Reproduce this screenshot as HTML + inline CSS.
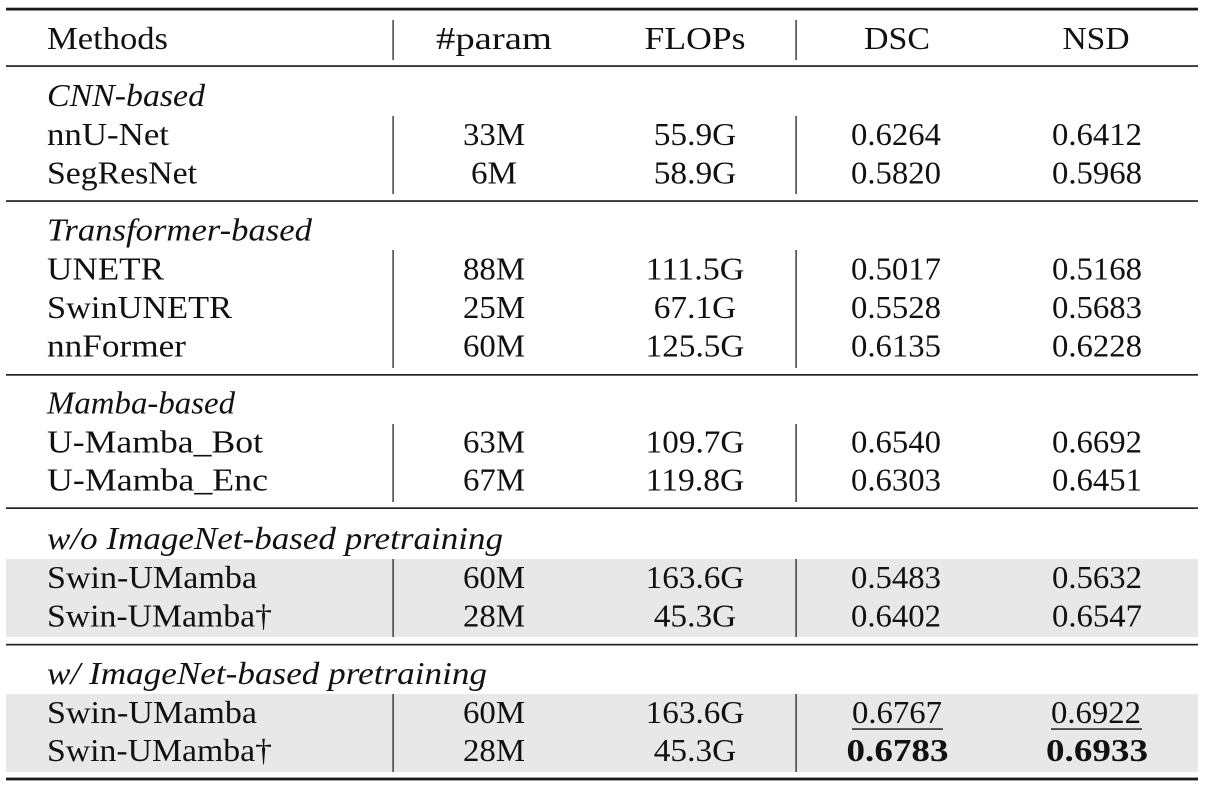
<!DOCTYPE html>
<html>
<head>
<meta charset="utf-8">
<style>
  html, body { margin: 0; padding: 0; background: #ffffff; }
  body { width: 1210px; height: 788px; overflow: hidden; }
  svg { display: block; }
  text { font-family: "Liberation Serif", "DejaVu Serif", serif; font-size: 31.5px; fill: #111; }
  .it { font-style: italic; }
  .b { font-weight: bold; }
</style>
</head>
<body>
<svg width="1210" height="788" viewBox="0 0 1210 788" xmlns="http://www.w3.org/2000/svg">
  <rect x="0" y="0" width="1210" height="788" fill="#ffffff"/>

  <!-- shaded bands -->
  <rect x="6" y="559" width="1192" height="78" fill="#e8e8e8"/>
  <rect x="6" y="694" width="1192" height="78" fill="#e8e8e8"/>

  <!-- horizontal rules -->
  <rect x="6" y="7.7" width="1192" height="2.8" fill="#1a1a1a"/>
  <rect x="6" y="65.2" width="1192" height="1.7" fill="#222"/>
  <rect x="6" y="200.2" width="1192" height="1.7" fill="#222"/>
  <rect x="6" y="374" width="1192" height="1.7" fill="#222"/>
  <rect x="6" y="507.3" width="1192" height="1.7" fill="#222"/>
  <rect x="6" y="643.8" width="1192" height="1.7" fill="#222"/>
  <rect x="6" y="777.6" width="1192" height="2.8" fill="#1a1a1a"/>

  <!-- vertical lines -->
  <g fill="#333">
    <rect x="392.4" y="20" width="1.4" height="40"/>
    <rect x="795.4" y="20" width="1.4" height="40"/>
    <rect x="392.4" y="116" width="1.4" height="78"/>
    <rect x="795.4" y="116" width="1.4" height="78"/>
    <rect x="392.4" y="250" width="1.4" height="118"/>
    <rect x="795.4" y="250" width="1.4" height="118"/>
    <rect x="392.4" y="424" width="1.4" height="78"/>
    <rect x="795.4" y="424" width="1.4" height="78"/>
    <rect x="392.4" y="559" width="1.4" height="78"/>
    <rect x="795.4" y="559" width="1.4" height="78"/>
    <rect x="392.4" y="694" width="1.4" height="78"/>
    <rect x="795.4" y="694" width="1.4" height="78"/>
  </g>

  <!-- underlines -->
  <rect x="852" y="728.3" width="91" height="1.5" fill="#222"/>
  <rect x="1051" y="728.3" width="91" height="1.5" fill="#222"/>

  <!-- header -->
  <text x="47" y="49" textLength="121" lengthAdjust="spacingAndGlyphs">Methods</text>
  <text x="494" y="49" text-anchor="middle" textLength="116" lengthAdjust="spacingAndGlyphs">#param</text>
  <text x="695" y="49" text-anchor="middle" textLength="101" lengthAdjust="spacingAndGlyphs">FLOPs</text>
  <text x="897" y="49" text-anchor="middle" textLength="66" lengthAdjust="spacingAndGlyphs">DSC</text>
  <text x="1096" y="49" text-anchor="middle" textLength="67" lengthAdjust="spacingAndGlyphs">NSD</text>

  <!-- CNN-based -->
  <text class="it" x="47" y="106" textLength="158" lengthAdjust="spacingAndGlyphs">CNN-based</text>

  <text x="47" y="145" textLength="122" lengthAdjust="spacingAndGlyphs">nnU-Net</text>
  <text x="494" y="145" text-anchor="middle" textLength="62" lengthAdjust="spacingAndGlyphs">33M</text>
  <text x="695" y="145" text-anchor="middle" textLength="82.5" lengthAdjust="spacingAndGlyphs">55.9G</text>
  <text x="896" y="145" text-anchor="middle" textLength="90" lengthAdjust="spacingAndGlyphs">0.6264</text>
  <text x="1097" y="145" text-anchor="middle" textLength="90" lengthAdjust="spacingAndGlyphs">0.6412</text>

  <text x="47" y="183.5" textLength="150" lengthAdjust="spacingAndGlyphs">SegResNet</text>
  <text x="494" y="183.5" text-anchor="middle" textLength="46" lengthAdjust="spacingAndGlyphs">6M</text>
  <text x="695" y="183.5" text-anchor="middle" textLength="82.5" lengthAdjust="spacingAndGlyphs">58.9G</text>
  <text x="896" y="183.5" text-anchor="middle" textLength="90" lengthAdjust="spacingAndGlyphs">0.5820</text>
  <text x="1097" y="183.5" text-anchor="middle" textLength="90" lengthAdjust="spacingAndGlyphs">0.5968</text>

  <!-- Transformer-based -->
  <text class="it" x="47" y="240.5" textLength="265" lengthAdjust="spacingAndGlyphs">Transformer-based</text>

  <text x="47" y="279.5" textLength="117" lengthAdjust="spacingAndGlyphs">UNETR</text>
  <text x="494" y="279.5" text-anchor="middle" textLength="62" lengthAdjust="spacingAndGlyphs">88M</text>
  <text x="695" y="279.5" text-anchor="middle" textLength="98.6" lengthAdjust="spacingAndGlyphs">111.5G</text>
  <text x="896" y="279.5" text-anchor="middle" textLength="90" lengthAdjust="spacingAndGlyphs">0.5017</text>
  <text x="1097" y="279.5" text-anchor="middle" textLength="90" lengthAdjust="spacingAndGlyphs">0.5168</text>

  <text x="47" y="318" textLength="185" lengthAdjust="spacingAndGlyphs">SwinUNETR</text>
  <text x="494" y="318" text-anchor="middle" textLength="62" lengthAdjust="spacingAndGlyphs">25M</text>
  <text x="695" y="318" text-anchor="middle" textLength="82.5" lengthAdjust="spacingAndGlyphs">67.1G</text>
  <text x="896" y="318" text-anchor="middle" textLength="90" lengthAdjust="spacingAndGlyphs">0.5528</text>
  <text x="1097" y="318" text-anchor="middle" textLength="90" lengthAdjust="spacingAndGlyphs">0.5683</text>

  <text x="47" y="356.5" textLength="139" lengthAdjust="spacingAndGlyphs">nnFormer</text>
  <text x="494" y="356.5" text-anchor="middle" textLength="62" lengthAdjust="spacingAndGlyphs">60M</text>
  <text x="695" y="356.5" text-anchor="middle" textLength="98.6" lengthAdjust="spacingAndGlyphs">125.5G</text>
  <text x="896" y="356.5" text-anchor="middle" textLength="90" lengthAdjust="spacingAndGlyphs">0.6135</text>
  <text x="1097" y="356.5" text-anchor="middle" textLength="90" lengthAdjust="spacingAndGlyphs">0.6228</text>

  <!-- Mamba-based -->
  <text class="it" x="47" y="413.5" textLength="188" lengthAdjust="spacingAndGlyphs">Mamba-based</text>

  <text x="47" y="452.5" textLength="216" lengthAdjust="spacingAndGlyphs">U-Mamba_Bot</text>
  <text x="494" y="452.5" text-anchor="middle" textLength="62" lengthAdjust="spacingAndGlyphs">63M</text>
  <text x="695" y="452.5" text-anchor="middle" textLength="98.6" lengthAdjust="spacingAndGlyphs">109.7G</text>
  <text x="896" y="452.5" text-anchor="middle" textLength="90" lengthAdjust="spacingAndGlyphs">0.6540</text>
  <text x="1097" y="452.5" text-anchor="middle" textLength="90" lengthAdjust="spacingAndGlyphs">0.6692</text>

  <text x="47" y="490.5" textLength="221" lengthAdjust="spacingAndGlyphs">U-Mamba_Enc</text>
  <text x="494" y="490.5" text-anchor="middle" textLength="62" lengthAdjust="spacingAndGlyphs">67M</text>
  <text x="695" y="490.5" text-anchor="middle" textLength="98.6" lengthAdjust="spacingAndGlyphs">119.8G</text>
  <text x="896" y="490.5" text-anchor="middle" textLength="90" lengthAdjust="spacingAndGlyphs">0.6303</text>
  <text x="1097" y="490.5" text-anchor="middle" textLength="90" lengthAdjust="spacingAndGlyphs">0.6451</text>

  <!-- w/o ImageNet -->
  <text class="it" x="47" y="549" textLength="456" lengthAdjust="spacingAndGlyphs">w/o ImageNet-based pretraining</text>

  <text x="47" y="588" textLength="210" lengthAdjust="spacingAndGlyphs">Swin-UMamba</text>
  <text x="494" y="588" text-anchor="middle" textLength="62" lengthAdjust="spacingAndGlyphs">60M</text>
  <text x="695" y="588" text-anchor="middle" textLength="98.6" lengthAdjust="spacingAndGlyphs">163.6G</text>
  <text x="896" y="588" text-anchor="middle" textLength="90" lengthAdjust="spacingAndGlyphs">0.5483</text>
  <text x="1097" y="588" text-anchor="middle" textLength="90" lengthAdjust="spacingAndGlyphs">0.5632</text>

  <text x="47" y="626.5" textLength="225" lengthAdjust="spacingAndGlyphs">Swin-UMamba†</text>
  <text x="494" y="626.5" text-anchor="middle" textLength="62" lengthAdjust="spacingAndGlyphs">28M</text>
  <text x="695" y="626.5" text-anchor="middle" textLength="82.5" lengthAdjust="spacingAndGlyphs">45.3G</text>
  <text x="896" y="626.5" text-anchor="middle" textLength="90" lengthAdjust="spacingAndGlyphs">0.6402</text>
  <text x="1097" y="626.5" text-anchor="middle" textLength="90" lengthAdjust="spacingAndGlyphs">0.6547</text>

  <!-- w/ ImageNet -->
  <text class="it" x="47" y="684" textLength="440" lengthAdjust="spacingAndGlyphs">w/ ImageNet-based pretraining</text>

  <text x="47" y="723" textLength="210" lengthAdjust="spacingAndGlyphs">Swin-UMamba</text>
  <text x="494" y="723" text-anchor="middle" textLength="62" lengthAdjust="spacingAndGlyphs">60M</text>
  <text x="695" y="723" text-anchor="middle" textLength="98.6" lengthAdjust="spacingAndGlyphs">163.6G</text>
  <text x="897" y="723" text-anchor="middle" textLength="90" lengthAdjust="spacingAndGlyphs">0.6767</text>
  <text x="1096" y="723" text-anchor="middle" textLength="90" lengthAdjust="spacingAndGlyphs">0.6922</text>

  <text x="47" y="761" textLength="225" lengthAdjust="spacingAndGlyphs">Swin-UMamba†</text>
  <text x="494" y="761" text-anchor="middle" textLength="62" lengthAdjust="spacingAndGlyphs">28M</text>
  <text x="695" y="761" text-anchor="middle" textLength="82.5" lengthAdjust="spacingAndGlyphs">45.3G</text>
  <text class="b" x="897.5" y="761" text-anchor="middle" textLength="102" lengthAdjust="spacingAndGlyphs">0.6783</text>
  <text class="b" x="1097" y="761" text-anchor="middle" textLength="102" lengthAdjust="spacingAndGlyphs">0.6933</text>
</svg>
</body>
</html>
